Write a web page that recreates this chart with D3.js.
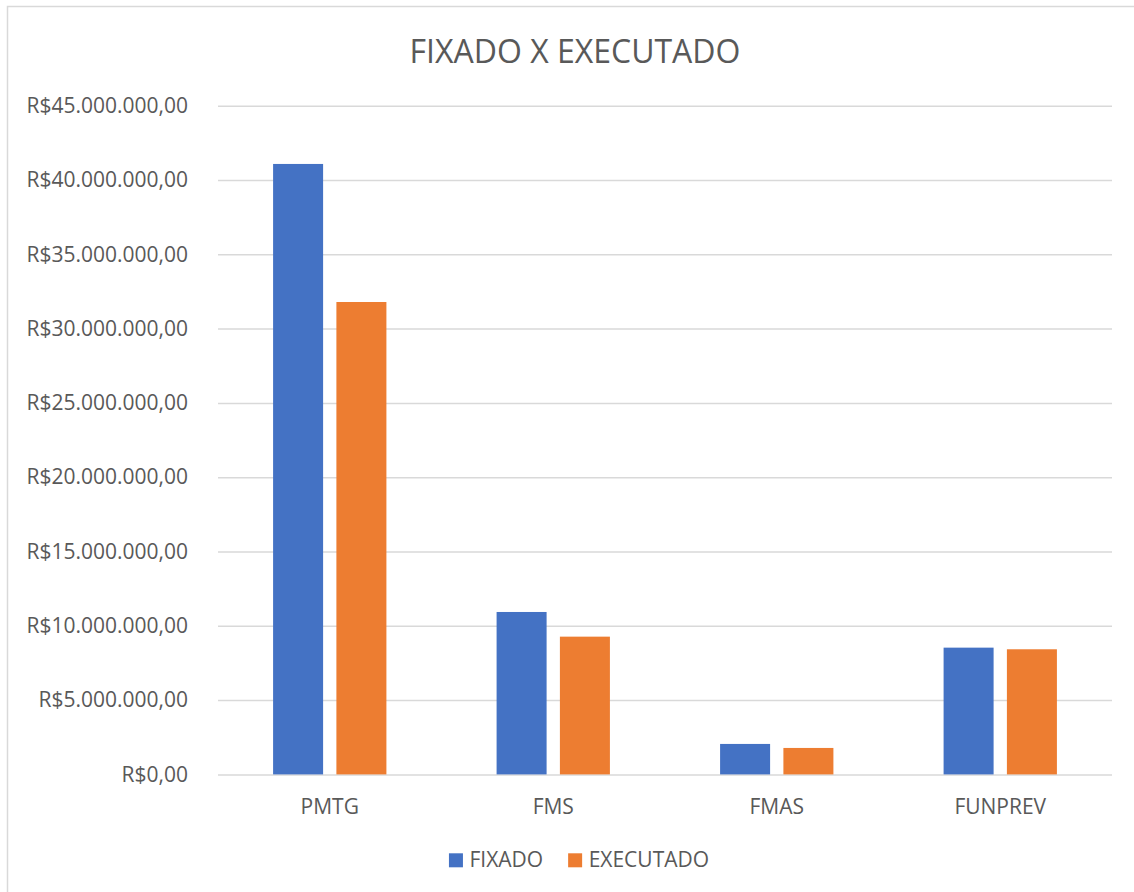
<!DOCTYPE html>
<html>
<head>
<meta charset="utf-8">
<script src="https://cdn.jsdelivr.net/npm/d3@7"></script>
<style>
  body { margin: 0; background: #fff; }
  text { font-family: "Open Sans", sans-serif; fill: #595959; }
</style>
</head>
<body>
<div id="chart"></div>
<script>
// data
const categories = ["PMTG", "FMS", "FMAS", "FUNPREV"];
const seriesNames = ["FIXADO", "EXECUTADO"];
const fixado = [41080000, 10930000, 2050000, 8530000];
const executado = [31790000, 9270000, 1780000, 8420000];
const yTicks = [0, 5e6, 10e6, 15e6, 20e6, 25e6, 30e6, 35e6, 40e6, 45e6];

const colors = ["#4472C4", "#ED7D31"];

let width = 1134,
    height = 892,
    margin = ({ top: 105.7, right: 22, bottom: 117.6, left: 218 });

const svg = d3.select("#chart")
  .append("svg")
  .attr("width", width)
  .attr("height", height);

// chart frame (only left and top edge visible)
svg.append("rect")
  .attr("x", 7.5).attr("y", 6.5)
  .attr("width", width).attr("height", height)
  .attr("fill", "none")
  .attr("stroke", "#d9d9d9")
  .attr("stroke-width", 1.5);

// title
svg.append("text")
  .attr("x", 575)
  .attr("y", 63)
  .attr("text-anchor", "middle")
  .style("font-size", "32px")
  .text("FIXADO X EXECUTADO");

const rows = categories.map((c, i) => ({ cat: c, values: [fixado[i], executado[i]] }));

let x0 = d3.scaleBand()
  .domain(categories)
  .range([margin.left, width - margin.right])
  .paddingInner(0.493)
  .paddingOuter(0.2465);

let x1 = d3.scaleBand()
  .domain(seriesNames)
  .range([0, x0.bandwidth()])
  .paddingInner(0.21);

let y = d3.scaleLinear()
  .domain([0, 45e6])
  .range([height - margin.bottom, margin.top]);

const ptBR = d3.formatLocale({
  decimal: ",", thousands: ".", grouping: [3], currency: ["R$", ""]
});
const money = ptBR.format("$,.2f");

// y axis + gridlines
svg.append("g")
  .attr("class", "y-axis")
  .attr("transform", `translate(${margin.left},0)`)
  .call(d3.axisLeft(y)
    .tickValues(yTicks)
    .tickSize(-(width - margin.left - margin.right))
    .tickPadding(30)
    .tickFormat(money))
  .call(g => g.select(".domain").remove())
  .call(g => g.selectAll(".tick line").attr("stroke", "#d9d9d9").attr("stroke-width", 1.5))
  .call(g => g.selectAll(".tick text")
    .style("font-size", "21px")
    .attr("fill", "#595959")
    .attr("font-family", null));

// bars
svg.append("g")
  .selectAll("g")
  .data(rows)
  .join("g")
  .attr("transform", d => `translate(${x0(d.cat)},0)`)
  .selectAll("rect")
  .data(d => d.values.map((v, j) => ({ key: seriesNames[j], value: v, j })))
  .join("rect")
  .attr("x", d => x1(d.key))
  .attr("y", d => y(d.value))
  .attr("width", x1.bandwidth())
  .attr("height", d => y(0) - y(d.value))
  .attr("fill", d => colors[d.j]);

// x axis labels
svg.append("g")
  .attr("class", "x-axis")
  .attr("transform", `translate(0,${height - margin.bottom})`)
  .call(d3.axisBottom(x0).tickSize(0).tickPadding(24.5))
  .call(g => g.select(".domain").remove())
  .call(g => g.selectAll(".tick text")
    .style("font-size", "21px")
    .attr("fill", "#595959")
    .attr("font-family", null));

// legend, centred under the plot
const legend = svg.append("g").attr("class", "legend");
let lx = 0;
seriesNames.forEach((name, i) => {
  const item = legend.append("g").attr("transform", `translate(${lx},0)`);
  item.append("rect")
    .attr("x", 0).attr("y", 853.3)
    .attr("width", 14).attr("height", 14)
    .attr("fill", colors[i]);
  const t = item.append("text")
    .attr("x", 20.5).attr("y", 867.3)
    .style("font-size", "21px")
    .text(name);
  lx += 20.5 + t.node().getComputedTextLength() + 25;
});
const lw = lx - 25;
legend.attr("transform", `translate(${579 - lw / 2},0)`);
</script>
</body>
</html>
